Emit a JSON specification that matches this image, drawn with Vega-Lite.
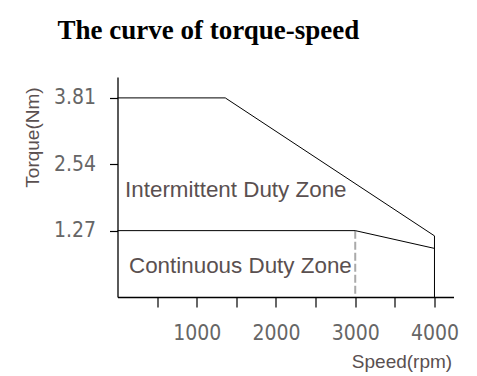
{
  "$schema": "https://vega.github.io/schema/vega-lite/v6.json",
  "width": 336,
  "height": 220,
  "autosize": {"type": "none"},
  "padding": {"left": 117.5, "top": 77, "right": 23.5, "bottom": 79},
  "background": "white",
  "config": {"view": {"stroke": null}},
  "title": {
    "text": "The curve of torque-speed",
    "font": "Liberation Serif",
    "fontSize": 27,
    "fontWeight": "bold",
    "color": "black",
    "anchor": "start",
    "frame": "group",
    "dx": -60,
    "baseline": "alphabetic",
    "offset": 11
  },
  "datasets": {
    "intermittent": [
      {"speed": 0, "torque": 3.81, "seq": 1},
      {"speed": 1360, "torque": 3.81, "seq": 2},
      {"speed": 4000, "torque": 1.17, "seq": 3},
      {"speed": 4000, "torque": 0, "seq": 4}
    ],
    "continuous": [
      {"speed": 0, "torque": 1.27, "seq": 1},
      {"speed": 3000, "torque": 1.27, "seq": 2},
      {"speed": 4000, "torque": 0.93, "seq": 3}
    ],
    "rated": [
      {"speed": 3000, "torque": 1.27, "seq": 1},
      {"speed": 3000, "torque": 0, "seq": 2}
    ],
    "zones": [
      {"speed": 95, "torque": 1.92, "label": "Intermittent Duty Zone"},
      {"speed": 145, "torque": 0.455, "label": "Continuous Duty Zone"}
    ]
  },
  "layer": [
    {
      "data": {"name": "rated"},
      "mark": {"type": "line", "color": "#aaaaaa", "strokeWidth": 2, "strokeDash": [8, 3]},
      "encoding": {
        "x": {
          "field": "speed", "type": "quantitative",
          "scale": {"domain": [0, 4240], "nice": false, "zero": true},
          "axis": {
            "values": [500, 1000, 1500, 2000, 2500, 3000, 3500, 4000],
            "format": "d",
            "labelExpr": "datum.value % 1000 == 0 ? datum.label : ''",
            "grid": false,
            "domainColor": "black",
            "domainWidth": 1.3,
            "tickColor": "black",
            "tickWidth": 1.2,
            "tickSize": 10,
            "labelFont": "Liberation Sans Narrow, DejaVu Sans Condensed, sans-serif",
            "labelFontSize": 21,
            "labelColor": "#666666",
            "labelBaseline": "alphabetic",
            "labelPadding": 32,
            "labelFlush": false,
            "labelOverlap": false,
            "labelAlign": "center",
            "title": "Speed(rpm)",
            "titleFont": "Liberation Sans",
            "titleFontSize": 19,
            "titleFontWeight": "normal",
            "titleColor": "#5a5050",
            "titleBaseline": "alphabetic",
            "titleAlign": "center",
            "titleAnchor": null,
            "titleX": 284,
            "titleY": 70
          }
        },
        "y": {
          "field": "torque", "type": "quantitative",
          "scale": {"domain": [0, 4.21], "nice": false, "zero": true},
          "axis": {
            "values": [1.27, 2.54, 3.81],
            "format": ".2f",
            "grid": false,
            "domainColor": "black",
            "domainWidth": 1.3,
            "tickColor": "black",
            "tickWidth": 1.2,
            "tickSize": 8,
            "labelFont": "Liberation Sans Narrow, DejaVu Sans Condensed, sans-serif",
            "labelFontSize": 21,
            "labelColor": "#666666",
            "labelAlign": "right",
            "labelBaseline": "middle",
            "labelPadding": 14,
            "labelOverlap": false,
            "labelFlush": false,
            "title": "Torque(Nm)",
            "titleFont": "Liberation Sans",
            "titleFontSize": 19,
            "titleFontWeight": "normal",
            "titleColor": "#5a5050",
            "titleAngle": 270,
            "titleBaseline": "alphabetic",
            "titleAlign": "center",
            "titleAnchor": null,
            "titleX": -79,
            "titleY": 60
          }
        },
        "order": {"field": "seq", "type": "quantitative"}
      }
    },
    {
      "data": {"name": "intermittent"},
      "mark": {"type": "line", "color": "black", "strokeWidth": 1},
      "encoding": {
        "x": {"field": "speed", "type": "quantitative"},
        "y": {"field": "torque", "type": "quantitative"},
        "order": {"field": "seq", "type": "quantitative"}
      }
    },
    {
      "data": {"name": "continuous"},
      "mark": {"type": "line", "color": "black", "strokeWidth": 1},
      "encoding": {
        "x": {"field": "speed", "type": "quantitative"},
        "y": {"field": "torque", "type": "quantitative"},
        "order": {"field": "seq", "type": "quantitative"}
      }
    },
    {
      "data": {"name": "zones"},
      "mark": {"type": "text", "align": "left", "baseline": "alphabetic", "font": "Liberation Sans", "fontSize": 22.4, "color": "#5a5050"},
      "encoding": {
        "x": {"field": "speed", "type": "quantitative"},
        "y": {"field": "torque", "type": "quantitative"},
        "text": {"field": "label"}
      }
    }
  ]
}
